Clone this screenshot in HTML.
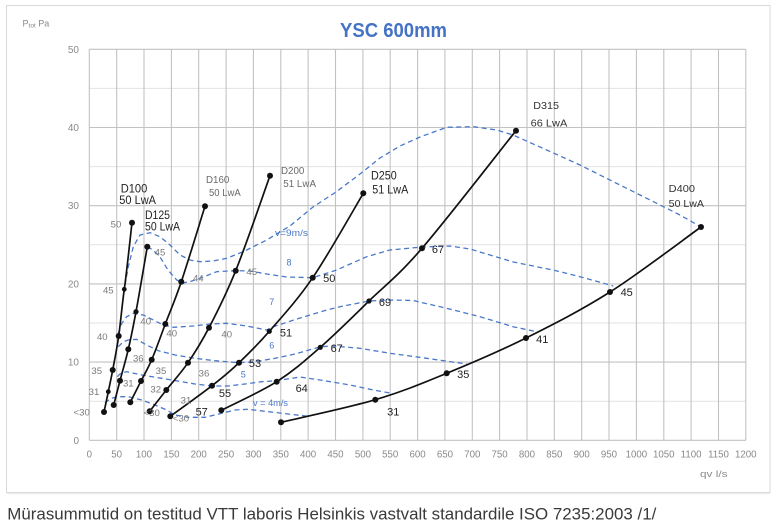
<!DOCTYPE html>
<html><head><meta charset="utf-8"><style>
html,body{margin:0;padding:0;background:#fff;}
svg{display:block;}
text{font-family:"Liberation Sans",sans-serif;}
</style></head><body>
<svg width="781" height="524" viewBox="0 0 781 524" xmlns="http://www.w3.org/2000/svg">
<rect width="781" height="524" fill="#fff"/>
<!-- frame -->
<rect x="6.5" y="5.5" width="763.5" height="487" fill="none" stroke="#dadada" stroke-width="1"/>
<line x1="7" y1="493.6" x2="770" y2="493.6" stroke="#ececec" stroke-width="1.2"/>
<!-- minor horizontal grid -->
<g stroke="#e2e2e2" stroke-width="1">
<line x1="89.3" y1="401.2" x2="745.8" y2="401.2"/>
<line x1="89.3" y1="323.0" x2="745.8" y2="323.0"/>
<line x1="89.3" y1="244.8" x2="745.8" y2="244.8"/>
<line x1="89.3" y1="166.6" x2="745.8" y2="166.6"/>
<line x1="89.3" y1="88.4" x2="745.8" y2="88.4"/>
</g>
<!-- major horizontal grid -->
<g stroke="#c2c2c2" stroke-width="1.1">
<line x1="89.3" y1="440.3" x2="745.8" y2="440.3"/>
<line x1="89.3" y1="362.1" x2="745.8" y2="362.1"/>
<line x1="89.3" y1="283.9" x2="745.8" y2="283.9"/>
<line x1="89.3" y1="205.7" x2="745.8" y2="205.7"/>
<line x1="89.3" y1="127.5" x2="745.8" y2="127.5"/>
<line x1="89.3" y1="49.3" x2="745.8" y2="49.3"/>
</g>
<!-- vertical grid -->
<g stroke="#c2c2c2" stroke-width="1.1">
<line x1="89.3" y1="49.3" x2="89.3" y2="440.3"/>
<line x1="116.7" y1="49.3" x2="116.7" y2="440.3"/>
<line x1="144.0" y1="49.3" x2="144.0" y2="440.3"/>
<line x1="171.4" y1="49.3" x2="171.4" y2="440.3"/>
<line x1="198.7" y1="49.3" x2="198.7" y2="440.3"/>
<line x1="226.1" y1="49.3" x2="226.1" y2="440.3"/>
<line x1="253.4" y1="49.3" x2="253.4" y2="440.3"/>
<line x1="280.8" y1="49.3" x2="280.8" y2="440.3"/>
<line x1="308.1" y1="49.3" x2="308.1" y2="440.3"/>
<line x1="335.5" y1="49.3" x2="335.5" y2="440.3"/>
<line x1="362.9" y1="49.3" x2="362.9" y2="440.3"/>
<line x1="390.2" y1="49.3" x2="390.2" y2="440.3"/>
<line x1="417.6" y1="49.3" x2="417.6" y2="440.3"/>
<line x1="444.9" y1="49.3" x2="444.9" y2="440.3"/>
<line x1="472.3" y1="49.3" x2="472.3" y2="440.3"/>
<line x1="499.6" y1="49.3" x2="499.6" y2="440.3"/>
<line x1="527.0" y1="49.3" x2="527.0" y2="440.3"/>
<line x1="554.3" y1="49.3" x2="554.3" y2="440.3"/>
<line x1="581.7" y1="49.3" x2="581.7" y2="440.3"/>
<line x1="609.0" y1="49.3" x2="609.0" y2="440.3"/>
<line x1="636.4" y1="49.3" x2="636.4" y2="440.3"/>
<line x1="663.8" y1="49.3" x2="663.8" y2="440.3"/>
<line x1="691.1" y1="49.3" x2="691.1" y2="440.3"/>
<line x1="718.5" y1="49.3" x2="718.5" y2="440.3"/>
<line x1="745.8" y1="49.3" x2="745.8" y2="440.3"/>
</g>

<!-- Y tick labels -->
<g fill="#8a8a8a" font-size="10" text-anchor="end">
<text x="79" y="52.8">50</text>
<text x="79" y="131">40</text>
<text x="79" y="209.2">30</text>
<text x="79" y="287.4">20</text>
<text x="79" y="365.6">10</text>
<text x="79" y="443.8">0</text>
</g>
<!-- X tick labels -->
<g fill="#8a8a8a" font-size="9.7" text-anchor="middle">
<text x="89.3" y="457.5">0</text>
<text x="116.7" y="457.5">50</text>
<text x="144.0" y="457.5">100</text>
<text x="171.4" y="457.5">150</text>
<text x="198.7" y="457.5">200</text>
<text x="226.1" y="457.5">250</text>
<text x="253.4" y="457.5">300</text>
<text x="280.8" y="457.5">350</text>
<text x="308.1" y="457.5">400</text>
<text x="335.5" y="457.5">450</text>
<text x="362.9" y="457.5">500</text>
<text x="390.2" y="457.5">550</text>
<text x="417.6" y="457.5">600</text>
<text x="444.9" y="457.5">650</text>
<text x="472.3" y="457.5">700</text>
<text x="499.6" y="457.5">750</text>
<text x="527.0" y="457.5">800</text>
<text x="554.3" y="457.5">850</text>
<text x="581.7" y="457.5">900</text>
<text x="609.0" y="457.5">950</text>
<text x="636.4" y="457.5">1000</text>
<text x="663.8" y="457.5">1050</text>
<text x="691.1" y="457.5">1100</text>
<text x="718.5" y="457.5">1150</text>
<text x="745.8" y="457.5">1200</text>
</g>
<text x="700" y="476.8" fill="#8a8a8a" font-size="9.5" textLength="27.5" lengthAdjust="spacingAndGlyphs">qv l/s</text>
<text x="22.5" y="26.5" fill="#8a8a8a" font-size="9">P<tspan font-size="6.5" dy="1">tot</tspan><tspan dy="-1"> Pa</tspan></text>

<!-- Title -->
<text x="340" y="37" fill="#4472c4" font-size="20.5" font-weight="bold" textLength="107" lengthAdjust="spacingAndGlyphs">YSC 600mm</text>

<!-- dashed iso-velocity lines -->
<g fill="none" stroke="#4a78c8" stroke-width="1.3" stroke-dasharray="5 3.5" stroke-linejoin="round">
<polyline points="125,285 128.3,266.7 133.3,246.7 140,235 150,232.7 160,236.7 170,245 180,255 190,260 200,261.7 213.3,261 226.7,258.3 243.3,251.7 266.7,240 290,226 313,207 336,192 360,174 380,158 400,146 420,137 446.7,127.3 473.3,126.7 496.7,130 513,135 546.7,150 580,165 613.3,181.7 646.7,198.3 680,215 701,227"/>
<polyline points="147.3,246.7 153,250 160,257 168,270 176.7,280 183.3,283 192,281 200,278.3 216.7,271.7 235.7,270.7 250,271 266.7,274 286.7,277 312.7,277.7 336.7,270 366.7,256.7 390,250 422,247 450,246 470,249 513.3,262 553,270 580,276.7 613.3,286"/>
<polyline points="118.3,333.3 122,323 126.7,316.7 133.3,313.3 143.3,315 153.3,320 163.3,325 173.3,327.3 193.3,326 210,324 226.7,323.3 246.7,326 266.7,330 273.3,326.7 300,318 326.7,310 340,306.7 369,301 390,300 413,300.5 446.7,308.3 480,316.7 513,326.7 536.7,331.7"/>
<polyline points="118.3,346.7 123,342 128.3,340 136.7,339.3 146.7,345 158.3,350.7 175,355 195,358.3 215,360.7 238.3,362.7 255,361.7 275,358.3 295,354 320.7,346.7 333.3,346 360,348.3 390,353.3 426.7,358.3 466.7,364"/>
<polyline points="117.3,376.7 121,373 126.7,371.7 141.7,375 161.7,378.3 181.7,381.7 195,384 211.7,386 228.3,386 245,384 261.7,381.7 276.7,380.7 300,377 320,380 350,385 373.3,390 390,393"/>
<polyline points="105,403 110,399 116.7,396.7 128.3,396.7 141.7,400 155,405 166.7,410 175,415 188.3,417.3 205,417.3 221.7,413.3 235,410 248.3,409.3 268.3,411.7 288.3,414 310,416.5"/>
</g>
<g fill="#4a78c8" font-size="9">
<text x="275" y="236" textLength="33" lengthAdjust="spacingAndGlyphs">v=9m/s</text>
<text x="286.5" y="265.5">8</text>
<text x="269.2" y="305">7</text>
<text x="269.2" y="348.3">6</text>
<text x="240.8" y="377.6">5</text>
<text x="253" y="406" textLength="35" lengthAdjust="spacingAndGlyphs">v = 4m/s</text>
</g>

<!-- black size curves -->
<g fill="none" stroke="#111" stroke-width="1.7" stroke-linecap="round">
<path d="M104,412 C104.7,408.6 106.9,398.7 108.3,391.7 C109.7,384.7 111,379.3 112.7,370 C114.4,360.7 116.8,349.5 118.7,336 C120.6,322.5 122.1,304.8 124.3,289.3 C126.5,273.8 130.7,233.8 132,222.7"/>
<path d="M113.7,405 C114.7,401 117.6,390 120,380.7 C122.4,371.4 125.6,360.8 128.3,349.3 C131,337.8 132.8,328.8 136,311.7 C139.2,294.6 145.4,257.5 147.3,246.7"/>
<path d="M130.3,402.3 C132.1,398.8 137.4,388.1 141,381 C144.6,373.9 147.7,369.2 151.7,359.7 C155.8,350.2 160.4,337 165.3,324 C170.2,311 174.7,301.3 181.3,281.7 C187.9,262.1 201,218.9 205,206.3"/>
<path d="M149.7,411.3 C152.5,407.8 159.9,398.1 166.3,390 C172.7,381.9 180.9,373.1 188,362.7 C195.1,352.3 201,343 209,327.7 C217,312.4 225.5,296 235.7,270.7 C245.9,245.4 264.3,191.5 270,175.7"/>
<path d="M170.3,416.3 C177.3,411.2 200.6,394.6 212,385.7 C223.5,376.8 229.5,371.8 239,362.7 C248.6,353.6 257,345.5 269.3,331.3 C281.6,317.1 297,300.7 312.7,277.7 C328.4,254.7 354.9,207.4 363.3,193.3"/>
<path d="M221.3,410.3 C230.5,405.5 260.2,392.2 276.7,381.7 C293.2,371.2 304.9,360.8 320.3,347.3 C335.7,333.9 352.1,317.5 369,301 C386,284.5 397.5,276.7 422,248.3 C446.5,219.9 500.3,150.3 516,130.7"/>
<path d="M281,422.3 C296.7,418.5 347.7,407.9 375.3,399.7 C402.9,391.5 421.6,383.6 446.7,373.3 C471.8,363 498.8,351.6 526,338 C553.2,324.4 580.8,310.5 610,292 C639.2,273.5 685.8,237.8 701,227"/>
</g>
<!-- markers -->
<g fill="#111">
<circle cx="104" cy="412" r="3"/><circle cx="108.3" cy="391.7" r="2.4"/><circle cx="112.7" cy="370" r="3"/><circle cx="118.7" cy="336" r="3"/><circle cx="124.3" cy="289.3" r="2.4"/><circle cx="132" cy="222.7" r="3"/>
<circle cx="113.7" cy="405" r="3"/><circle cx="120" cy="380.7" r="3"/><circle cx="128.3" cy="349.3" r="3"/><circle cx="136" cy="311.7" r="2.6"/><circle cx="147.3" cy="246.7" r="3"/>
<circle cx="130.3" cy="402.3" r="3"/><circle cx="141" cy="381" r="3"/><circle cx="151.7" cy="359.7" r="3"/><circle cx="165.3" cy="324" r="3"/><circle cx="181.3" cy="281.7" r="3"/><circle cx="205" cy="206.3" r="3"/>
<circle cx="149.7" cy="411.3" r="3"/><circle cx="166.3" cy="390" r="3"/><circle cx="188" cy="362.7" r="3"/><circle cx="209" cy="327.7" r="3"/><circle cx="235.7" cy="270.7" r="3"/><circle cx="270" cy="175.7" r="3"/>
<circle cx="170.3" cy="416.3" r="3"/><circle cx="212" cy="385.7" r="3"/><circle cx="239" cy="362.7" r="3"/><circle cx="269.3" cy="331.3" r="2.6"/><circle cx="312.7" cy="277.7" r="3"/><circle cx="363.3" cy="193.3" r="3"/>
<circle cx="221.3" cy="410.3" r="3"/><circle cx="276.7" cy="381.7" r="3"/><circle cx="320.3" cy="347.3" r="2.6"/><circle cx="369" cy="301" r="2.6"/><circle cx="422" cy="248.3" r="3"/><circle cx="516" cy="130.7" r="3"/>
<circle cx="281" cy="422.3" r="3"/><circle cx="375.3" cy="399.7" r="3"/><circle cx="446.7" cy="373.3" r="3"/><circle cx="526" cy="338" r="3"/><circle cx="610" cy="292" r="3"/><circle cx="701" cy="227" r="3"/>
</g>

<!-- gray point labels -->
<g fill="#7a7a7a" font-size="9.6" text-anchor="middle">
<text x="116" y="227.4">50</text>
<text x="108.3" y="293.4">45</text>
<text x="102.3" y="340.1">40</text>
<text x="96.7" y="374.1">35</text>
<text x="94" y="395.1">31</text>
<text x="81.7" y="415.7">&lt;30</text>
<text x="160" y="255.7">45</text>
<text x="145.7" y="324.4">40</text>
<text x="138.3" y="361.7">36</text>
<text x="128.3" y="386.7">31</text>
<text x="198.3" y="281.7">44</text>
<text x="171.7" y="336.7">40</text>
<text x="161" y="374.1">35</text>
<text x="155.7" y="392.7">32</text>
<text x="151.7" y="416.1">&lt;30</text>
<text x="251.7" y="275.1">45</text>
<text x="226.7" y="337.4">40</text>
<text x="204" y="376.7">36</text>
<text x="186" y="403.4">31</text>
<text x="181" y="421.7">&lt;30</text>
</g>
<!-- black point labels -->
<g fill="#222" font-size="11" text-anchor="middle">
<text x="329.3" y="282.2">50</text>
<text x="286" y="336.6">51</text>
<text x="255" y="367.2">53</text>
<text x="225" y="397.2">55</text>
<text x="201.7" y="415.6">57</text>
<text x="301.7" y="392.2">64</text>
<text x="336.7" y="352.2">67</text>
<text x="385" y="306.2">69</text>
<text x="438" y="252.9">67</text>
<text x="393.3" y="415.6">31</text>
<text x="463.3" y="377.9">35</text>
<text x="542.3" y="342.9">41</text>
<text x="626.7" y="296.2">45</text>
</g>
<!-- size headers -->
<g fill="#222" font-size="11.5">
<text x="120.7" y="192.3" textLength="26.6" lengthAdjust="spacingAndGlyphs">D100</text>
<text x="119.3" y="204" textLength="36.7" lengthAdjust="spacingAndGlyphs">50 LwA</text>
<text x="145" y="219" textLength="25" lengthAdjust="spacingAndGlyphs">D125</text>
<text x="145" y="230.7" textLength="35" lengthAdjust="spacingAndGlyphs">50 LwA</text>
<text x="371" y="179.7" textLength="25.7" lengthAdjust="spacingAndGlyphs">D250</text>
<text x="372.3" y="193.3" textLength="36" lengthAdjust="spacingAndGlyphs">51 LwA</text>
</g>
<g fill="#333" font-size="10.5">
<text x="533.3" y="108.8" textLength="25.7" lengthAdjust="spacingAndGlyphs">D315</text>
<text x="530.7" y="126.5" textLength="36.6" lengthAdjust="spacingAndGlyphs">66 LwA</text>
<text x="668.7" y="192.1" textLength="26.3" lengthAdjust="spacingAndGlyphs">D400</text>
<text x="668.7" y="207.1" textLength="35.3" lengthAdjust="spacingAndGlyphs">50 LwA</text>
</g>
<g fill="#6a6a6a" font-size="10">
<text x="206" y="182.8" textLength="23.3" lengthAdjust="spacingAndGlyphs">D160</text>
<text x="209" y="196.2" textLength="31.7" lengthAdjust="spacingAndGlyphs">50 LwA</text>
<text x="281" y="174.2" textLength="23.3" lengthAdjust="spacingAndGlyphs">D200</text>
<text x="283.3" y="186.8" textLength="32.7" lengthAdjust="spacingAndGlyphs">51 LwA</text>
</g>

<!-- caption -->
<text x="7.3" y="519.3" fill="#3a3a3a" font-size="16.5" textLength="649" lengthAdjust="spacingAndGlyphs">Mürasummutid on testitud VTT laboris Helsinkis vastvalt standardile ISO 7235:2003 /1/</text>
</svg>
</body></html>
